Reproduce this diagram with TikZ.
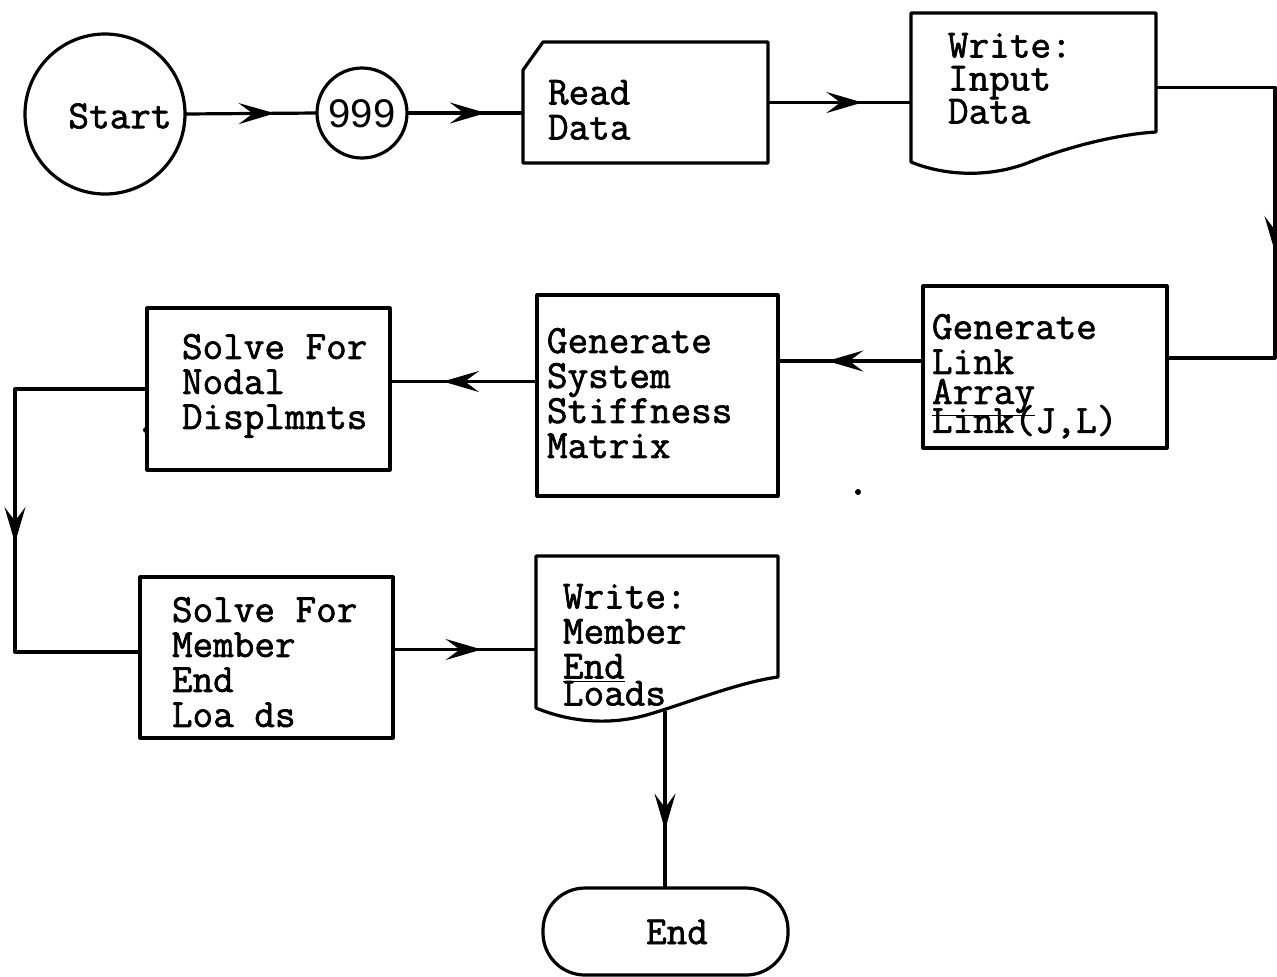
\documentclass[tikz,border=0pt]{standalone}
\usepackage{fontspec}
\newfontfamily\tw{Latin Modern Mono}[FakeBold=1.6]
\newfontfamily\sansdig{Liberation Sans}
\usetikzlibrary{arrows.meta,decorations.markings,calc}
\begin{document}
\begin{tikzpicture}[x=0.5pt,y=-0.5pt,line width=1.6pt,line join=round,
  every node/.style={inner sep=0pt,outer sep=0pt},
  arr/.tip={Stealth[length=18pt,width=10.5pt,inset=7pt]},
  flow/.style={postaction={decorate},decoration={markings,mark=at position #1 with {\arrow{arr}}}},
  boxnode/.style={draw,rectangle},
  shapenode/.style={rectangle},
  txt/.style={font=\tw\fontsize{20}{17.5}\selectfont,align=left,anchor=north west}]
\useasboundingbox (0,0) rectangle (1277,976);
% nodes
\node[draw,circle,minimum size=80pt] (start) at (105,114) {};
\node[txt,anchor=center] (tstart) at (120,116) {Start};
\node[draw,circle,minimum size=45pt] (n999) at (362,113) {};
\node[font=\sansdig\fontsize{20}{20}\selectfont] (t999) at (362,114) {999};
\node[shapenode,minimum width=122.5pt,minimum height=60.5pt] (read) at (645.5,102.5) {};
\draw (read.north west) ++(20,0) -- (read.north east) -- (read.south east) -- (read.south west) -- ($(read.north west)+(0,28)$) -- cycle;
\node[txt] (tread) at (548,80) {Read\\Data};
\node[shapenode,minimum width=122.5pt,minimum height=74.5pt] (win) at (1033.5,87.5) {};
\draw (win.south west) .. controls (945,176) and (990,178) .. (1030,162) .. controls (1070,146) and (1120,134) .. (1156,132) -- (win.north east) -- (win.north west) -- cycle;
\node[txt] (twin) at (948,33) {Write:\\[-1pt]Input\\[-1pt]Data};
\node[boxnode,minimum width=122pt,minimum height=81pt] (link) at (1045,367) {};
\node[txt] (tlink) at (932,314) {Generate\\Link\\[-2.5pt]\underline{Array}\\[-7pt]Link(J,L)};
\node[boxnode,minimum width=120.5pt,minimum height=100.5pt] (stiff) at (657.5,395.5) {};
\node[txt] (tstiff) at (547,328) {Generate\\System\\Stiffness\\Matrix};
\node[boxnode,minimum width=121.5pt,minimum height=81pt] (nodal) at (268.5,389) {};
\node[txt] (tnodal) at (182,334) {Solve For\\Nodal\\Displmnts};
\node[boxnode,minimum width=126.5pt,minimum height=80.5pt] (member) at (266.5,657.5) {};
\node[txt] (tmember) at (172,597) {Solve For\\Member\\End\\Loa ds};
\node[shapenode,minimum width=121pt,minimum height=76pt] (wm) at (657,632) {};
\draw (wm.south west) .. controls (570,722) and (610,726) .. (650,714) .. controls (690,702) and (740,682) .. (778,677) -- (wm.north east) -- (wm.north west) -- cycle;
\node[txt] (twm) at (563,584) {Write:\\Member\\\underline{End}\\[-4pt]Loads};
\node[draw,rectangle,rounded corners=21pt,minimum width=122.5pt,minimum height=43.5pt] (end) at (665.5,931.5) {};
\node[txt,anchor=center] (tend) at (677,932) {End};
% connector helper coordinates
\coordinate (c1) at (1275,87.5);
\coordinate (c2) at (1275,358);
\coordinate (c3) at (15,389);
\coordinate (c4) at (15,652);
\coordinate (wmb) at (665,711);
% connectors
\draw[flow=0.68] (start.east) -- (n999.west);
\draw[flow=0.68] (n999.east) -- (n999.east -| read.west);
\draw[flow=0.66] (read.east) -- (read.east -| win.west);
\draw[flow=0.57] (win.east) -- (c1) -- (c2) -- (c2 -| link.east);
\draw[flow=0.66] ([yshift=3pt]link.west) -- ([yshift=3pt]link.west -| stiff.east);
\draw[flow=0.64] ([yshift=7pt]stiff.west) -- ([yshift=7pt]stiff.west -| nodal.east);
\draw[flow=0.55] (nodal.west) -- (c3) -- (c4) -- (c4 -| member.west);
\draw[flow=0.62] ([yshift=4pt]member.east) -- ([yshift=4pt]member.east -| wm.west);
\draw[flow=0.67] (wmb) -- (wmb |- end.north);
% scan specks
\fill (858,492) circle (1.5pt);
\fill (146,430) circle (1.5pt);
\end{tikzpicture}
\end{document}
